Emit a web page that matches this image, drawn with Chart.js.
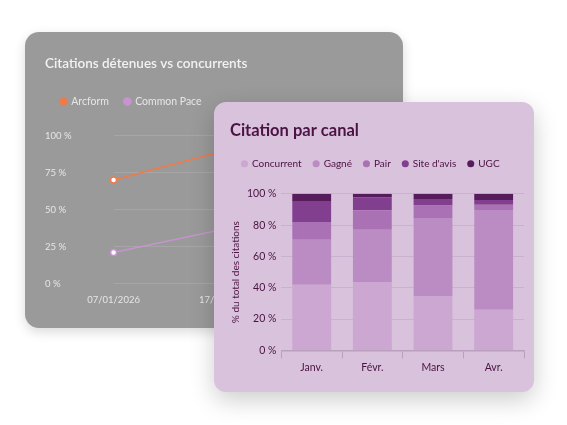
<!DOCTYPE html>
<html><head><meta charset="utf-8">
<script src="https://cdn.jsdelivr.net/npm/chart.js@4"></script>
<style>
body{margin:0;width:567px;height:425px;background:#fff;position:relative;overflow:hidden;font-family:Lato,sans-serif}
#back{position:absolute;left:25px;top:32px;width:378px;height:296px;background:#9a9a9a;border-radius:14px;box-shadow:0 4px 12px rgba(0,0,0,.15)}
#front{position:absolute;left:214px;top:102px;width:320px;height:290px;background:#d8c2dc;border-radius:12px;box-shadow:0 8px 24px rgba(0,0,0,.2)}
canvas{position:absolute;left:0;top:0}
</style></head><body>
<div id="back"><canvas id="c1" width="378" height="296"></canvas></div>
<div id="front"><canvas id="c2" width="320" height="290"></canvas></div>
<script>
const lineDates=['07/01/2026','17/01/2026','27/01/2026'];
const arcform=[70,90,86];
const commonPace=[21,37,44];
const lineTicks=['0 %','25 %','50 %','75 %','100 %'];

const months=['Janv.','Févr.','Mars','Avr.'];
const concurrent=[42,43.4,34.4,26];
const gagne=[28.7,33.6,50.2,63.7];
const pair=[11.3,12.5,7.9,3.3];
const siteAvis=[13,8.1,4.1,3];
const ugc=[5,2.4,3.4,4];

Chart.defaults.font.family='Lato, sans-serif';
Chart.defaults.animation=false;
Chart.defaults.responsive=false;

function legendGap(px){return {id:'lg'+px,beforeInit(chart){const l=chart.legend;const f=l.fit;l.fit=function(){f.call(l);l.height+=px;};}};}

new Chart(document.getElementById('c1'),{type:'line',
data:{labels:lineDates,datasets:[
{label:'Arcform',data:arcform,borderColor:'#f07a4a',backgroundColor:'#f07a4a',pointBackgroundColor:'#fff',pointBorderColor:'#f07a4a',pointBorderWidth:1.5,pointRadius:3,borderWidth:1.5},
{label:'Common Pace',data:commonPace,borderColor:'#c794d0',backgroundColor:'#c794d0',pointBackgroundColor:'#fff',pointBorderColor:'#c794d0',pointBorderWidth:1.5,pointRadius:3,borderWidth:1.5}]},
options:{layout:{padding:{left:20,right:66,top:24,bottom:19}},
plugins:{title:{display:true,text:'Citations détenues vs concurrents',align:'start',color:'#f2f2f2',font:{size:13.5,weight:'600'},padding:{bottom:8}},
legend:{align:'start',labels:{usePointStyle:true,pointStyle:'circle',boxWidth:5,boxHeight:5,color:'#e6e6e6',font:{size:10.5},padding:16,
generateLabels(c){return Chart.defaults.plugins.legend.labels.generateLabels(c).map(it=>({...it,fillStyle:it.strokeStyle}));}}}},
scales:{x:{offset:false,grid:{display:false},border:{display:false},ticks:{color:'#e6e6e6',font:{size:9.5},maxRotation:0}},
y:{min:0,max:100,ticks:{stepSize:25,color:'#e6e6e6',font:{size:9.5},padding:21,crossAlign:'far',callback:v=>lineTicks[v/25]},grid:{color:'rgba(255,255,255,0.12)',drawTicks:false},border:{display:false}}}},
plugins:[legendGap(19)]});

const cols=['#cba7d1','#ba8cc3','#aa72b5','#823f8f','#561c5c'];
const names=['Concurrent','Gagné','Pair',"Site d'avis",'UGC'];
const vals=[concurrent,gagne,pair,siteAvis,ugc];
new Chart(document.getElementById('c2'),{type:'bar',
data:{labels:months,datasets:vals.map((d,i)=>({label:names[i],data:d,backgroundColor:cols[i],barPercentage:0.64,categoryPercentage:1}))},
options:{layout:{padding:{left:16,right:10,top:19,bottom:15}},
plugins:{title:{display:true,text:'Citation par canal',align:'start',color:'#4b1244',font:{size:16.5,weight:'bold'},padding:{bottom:6}},
legend:{align:'start',labels:{usePointStyle:true,pointStyle:'circle',boxWidth:5,boxHeight:5,color:'#4b1244',font:{size:10},padding:12}}},
scales:{x:{stacked:true,grid:{display:true,drawOnChartArea:false,color:'#b9a0bd',tickLength:8},border:{color:'#b9a0bd',width:1.5},ticks:{color:'#4b1244',font:{size:10.5}}},
y:{stacked:true,min:0,max:100,ticks:{stepSize:20,color:'#4b1244',font:{size:10.5},padding:5,callback:v=>v+' %'},grid:{color:'rgba(150,110,155,0.2)',drawTicks:false},border:{display:false},
title:{display:true,text:'% du total des citations',color:'#4b1244',font:{size:10},padding:{top:0,bottom:0}}}}},
plugins:[legendGap(15)]});
</script></body></html>
